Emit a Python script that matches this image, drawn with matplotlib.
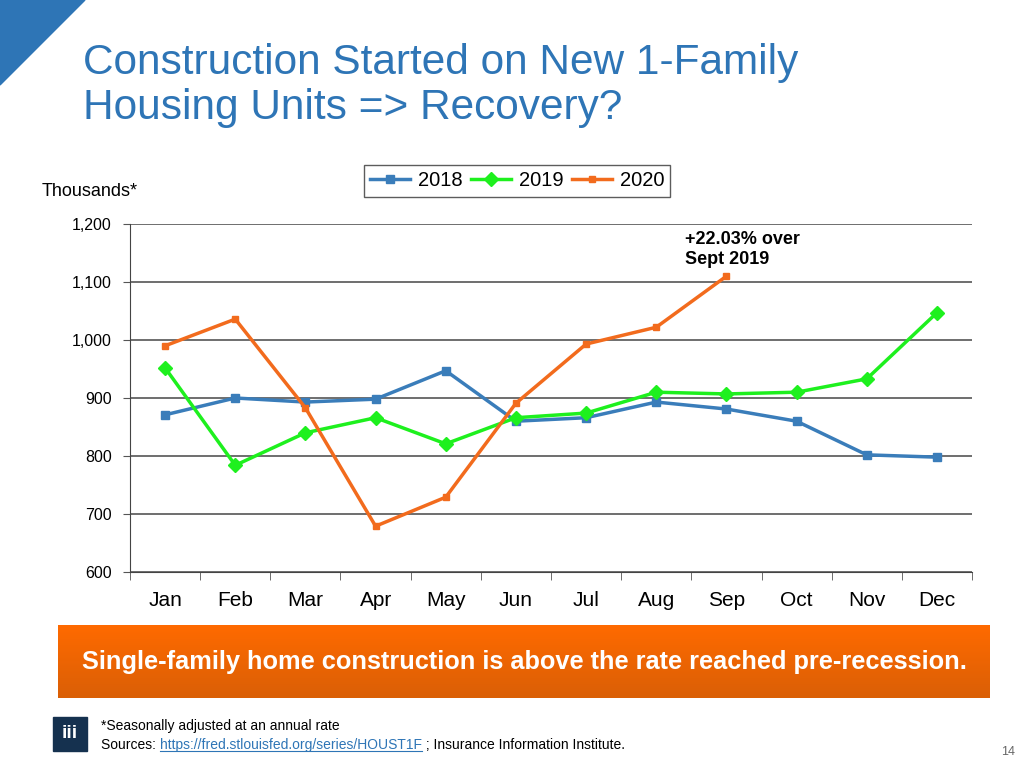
import numpy as np
import matplotlib
matplotlib.use('Agg')
import matplotlib.pyplot as plt
from matplotlib.patches import Polygon, Rectangle
from matplotlib.colors import LinearSegmentedColormap

plt.rcParams['font.family'] = ['Liberation Sans', 'DejaVu Sans']

months = ['Jan', 'Feb', 'Mar', 'Apr', 'May', 'Jun', 'Jul', 'Aug', 'Sep', 'Oct', 'Nov', 'Dec']
y2018 = [871, 900, 893, 898, 947, 860, 866, 893, 881, 860, 802, 798]
y2019 = [952, 784, 840, 866, 821, 866, 874, 910, 907, 910, 933, 1047]
y2020 = [990, 1036, 883, 679, 729, 891, 993, 1022, 1110]
yticks = [600, 700, 800, 900, 1000, 1100, 1200]

fig = plt.figure(figsize=(10.24, 7.68), dpi=100)

# corner triangle
fig.patches.append(Polygon([[0, 1], [85 / 1024, 1], [0, 1 - 85 / 768]], closed=True,
                           transform=fig.transFigure, color='#2E75B6', zorder=0))

fig.text(83 / 1024, 1 - 63 / 768, 'Construction Started on New 1-Family', fontsize=30.5,
         color='#2E75B6', va='center', ha='left')
fig.text(83 / 1024, 1 - 108 / 768, 'Housing Units => Recovery?', fontsize=30.5,
         color='#2E75B6', va='center', ha='left')

ax = fig.add_axes([130 / 1024, 1 - 572 / 768, 842 / 1024, 348 / 768])
x = np.arange(len(months))
ax.plot(x, y2018, color='#3A7DBA', lw=2.5, marker='s', ms=6, label='2018', zorder=3)
ax.plot(x, y2019, color='#1EF01E', lw=2.5, marker='D', ms=7, label='2019', zorder=3)
ax.plot(x[:len(y2020)], y2020, color='#F26B1D', lw=2.5, marker='s', ms=5, label='2020', zorder=4)

ax.set_xlim(-0.5, 11.5)
ax.set_ylim(600, 1200)
ax.set_yticks(yticks)
ax.set_yticklabels(['{:,}'.format(v) for v in yticks], fontsize=11.5)
ax.set_xticks(x)
ax.set_xticklabels(months, fontsize=15)
ax.set_xticks(np.arange(-0.5, 12, 1), minor=True)
ax.tick_params(axis='x', which='major', length=0, pad=14)
ax.tick_params(axis='x', which='minor', length=6, color='#555555', direction='out')
ax.tick_params(axis='y', length=5, color='#555555', pad=8)
ax.grid(axis='y', color='#555555', lw=1.2, zorder=1)
for s in ['top', 'right']:
    ax.spines[s].set_visible(False)
for s in ['left', 'bottom']:
    ax.spines[s].set_color('#444444')

ax.text(7.41, 1188, '+22.03% over\nSept 2019', fontsize=13, fontweight='bold',
        va='top', ha='left', linespacing=1.25)

fig.text(42 / 1024, 1 - 192 / 768, 'Thousands*', fontsize=13, va='center', ha='left')

leg = ax.legend(loc='center', bbox_to_anchor=(517 / 1024, 1 - 181 / 768), bbox_transform=fig.transFigure,
                ncol=3, fontsize=14.5, frameon=True, fancybox=False, edgecolor='#333333',
                handlelength=2.0, handletextpad=0.4, columnspacing=0.4, borderpad=0.3,
                borderaxespad=0)
leg.get_frame().set_linewidth(1.0)

# orange banner with gradient
bax = fig.add_axes([58 / 1024, 1 - 698 / 768, 932 / 1024, 73 / 768])
grad = np.linspace(0, 1, 100).reshape(-1, 1)
cmap = LinearSegmentedColormap.from_list('o', ['#FF6A00', '#DA5F06'])
bax.imshow(grad, aspect='auto', cmap=cmap, extent=[0, 1, 0, 1], origin='upper')
bax.set_axis_off()
bax.text(0.5, 0.5, 'Single-family home construction is above the rate reached pre-recession.',
         color='white', fontsize=18.3, fontweight='bold', ha='center', va='center')

# footer
fig.patches.append(Rectangle((53 / 1024, 1 - 751 / 768), 34 / 1024, 34 / 768,
                             transform=fig.transFigure, color='#15314F'))
fig.text(70 / 1024, 1 - 734 / 768, 'iii', color='white', fontsize=14, fontweight='bold',
         ha='center', va='center')
fig.text(101 / 1024, 1 - 726 / 768, '*Seasonally adjusted at an annual rate', fontsize=10,
         va='center', ha='left')
t1 = fig.text(101 / 1024, 1 - 745 / 768, 'Sources: ', fontsize=10, va='center', ha='left')
fig.canvas.draw()
r = fig.canvas.get_renderer()
bb = t1.get_window_extent(r)
t2 = fig.text(bb.x1 / 1024, 1 - 745 / 768, 'https://fred.stlouisfed.org/series/HOUST1F', fontsize=10,
              va='center', ha='left', color='#2E75B6')
bb2 = t2.get_window_extent(r)
fig.add_artist(plt.Line2D([bb2.x0 / 1024, bb2.x1 / 1024], [bb2.y0 / 768 + 0.001, bb2.y0 / 768 + 0.001],
                          color='#2E75B6', lw=0.8))
fig.text(bb2.x1 / 1024, 1 - 745 / 768, ' ; Insurance Information Institute.', fontsize=10,
         va='center', ha='left')
fig.text(1008 / 1024, 1 - 752 / 768, '14', fontsize=9, color='#666666', ha='center', va='center')

plt.savefig('out.png', dpi=100)
